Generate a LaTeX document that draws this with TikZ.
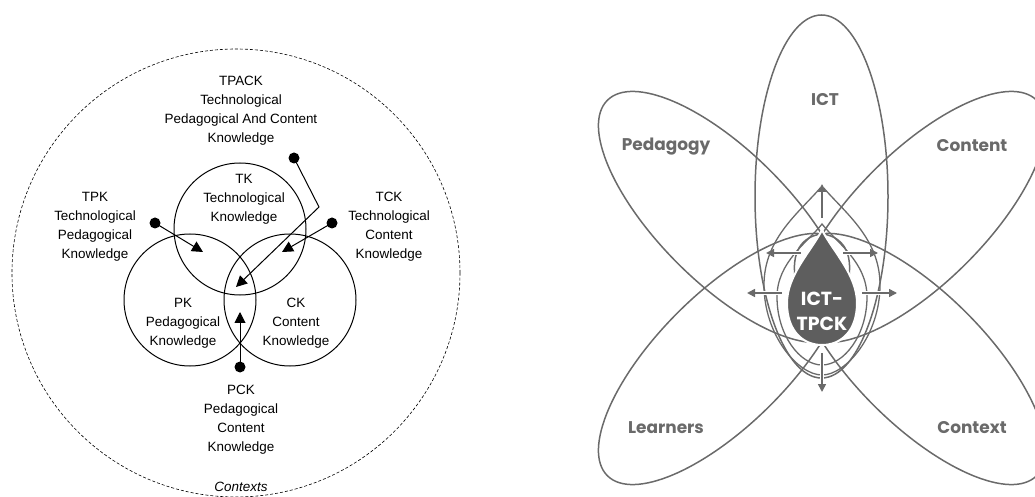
\documentclass[tikz,border=0pt]{standalone}
\usepackage{fontspec}
\setmainfont{Liberation Sans}
\newfontfamily\petalfont{Poppins}
\usetikzlibrary{arrows.meta}

\definecolor{petalgray}{HTML}{6A6A6A}
\definecolor{dropgray}{HTML}{5E5E5E}

\tikzset{
  venn/.style={circle, draw, line width=1bp, minimum size=132bp, inner sep=0pt},
  kname/.style={align=center, font=\fontsize{13.5}{19}\selectfont},
  pin/.style={circle, fill, minimum size=11bp, inner sep=0pt},
  pointer/.style={line width=1bp, -{Triangle[length=11bp,width=11bp]}},
  petal/.style={draw=petalgray, line width=1.5bp},
  ring/.style={draw=petalgray, line width=1.3bp},
  petalname/.style={text=petalgray, font=\petalfont\bfseries\fontsize{17}{20}\selectfont},
  flow/.style={draw=petalgray, line width=1.6bp, -{Triangle[length=8bp,width=8bp]},
    preaction={draw=white, line width=4.5bp, -}}
}

\begin{document}
\begin{tikzpicture}[x=1bp, y=-1bp]
\useasboundingbox (0,0) rectangle (1035,497);

% TPACK
\node[venn, dashed, minimum size=448bp, line width=0.6bp, dash pattern=on 3bp off 2bp] (context) at (236,273) {};
\node[venn] (tk) at (240,229) {};
\node[venn] (pk) at (190,300) {};
\node[venn] (ck) at (290,300) {};

\node[kname] (tpack) at (241,111) {TPACK\\Technological\\Pedagogical And Content\\Knowledge};
\node[kname] (tktext) at (244,199) {TK\\Technological\\Knowledge};
\node[kname] (tpk) at (95,227) {TPK\\Technological\\Pedagogical\\Knowledge};
\node[kname] (tck) at (389,227) {TCK\\Technological\\Content\\Knowledge};
\node[kname] (pktext) at (183,323) {PK\\Pedagogical\\Knowledge};
\node[kname] (cktext) at (296,323) {CK\\Content\\Knowledge};
\node[kname] (pck) at (241,420) {PCK\\Pedagogical\\Content\\Knowledge};
\node[kname, font=\fontsize{13.5}{19}\selectfont\itshape] (contexts) at (241,487) {Contexts};

\node[pin] (tpackpin) at (294,158) {};
\node[pin] (tpkpin) at (155,223) {};
\node[pin] (tckpin) at (332,223) {};
\node[pin] (pckpin) at (240,367) {};
\coordinate (tpackbend) at (319,207);
\coordinate (tpackhead) at (236,287);
\coordinate (tpkhead) at (203,252);
\coordinate (tckhead) at (282,252);
\coordinate (pckhead) at (240,312);

\draw[pointer] (tpackpin.center) -- (tpackbend) -- (tpackhead);
\draw[pointer] (tpkpin.center) -- (tpkhead);
\draw[pointer] (tckpin.center) -- (tckhead);
\draw[pointer] (pckpin.center) -- (pckhead);

% ICT-TPCK
\draw[petal] (821.5,196.5) ellipse [x radius=66.5, y radius=181.5];
\draw[petal, rotate around={-45:(724,217)}] (724,217) ellipse [x radius=165, y radius=65.5];
\draw[petal, rotate around={45:(920,217)}] (920,217) ellipse [x radius=165, y radius=65.5];
\draw[petal, rotate around={45:(724,359)}] (724,359) ellipse [x radius=165, y radius=65.5];
\draw[petal, rotate around={-45:(920,359)}] (920,359) ellipse [x radius=165, y radius=65.5];

% growing outlines round the drop
\draw[ring] (822,186) .. controls (800,212) and (764,238) .. (764,285)
  .. controls (764,335) and (798,375) .. (822,375)
  .. controls (846,375) and (880,335) .. (880,285)
  .. controls (880,238) and (844,212) .. (822,186) -- cycle;
\draw[ring] (822,224) .. controls (808,242) and (777,262) .. (777,297)
  .. controls (777,335) and (800,365) .. (822,365)
  .. controls (844,365) and (867,335) .. (867,297)
  .. controls (867,262) and (836,242) .. (822,224) -- cycle;

\fill[dropgray, draw=white, line width=2bp] (822,230)
  .. controls (812,250) and (787,275) .. (787,303)
  .. controls (787,331) and (803,345) .. (822,345)
  .. controls (841,345) and (857,331) .. (857,303)
  .. controls (857,275) and (832,250) .. (822,230) -- cycle;

\coordinate (upfrom) at (822,218);
\coordinate (upto) at (822,184);
\coordinate (downfrom) at (822,353);
\coordinate (downto) at (822,392);
\coordinate (lefthifrom) at (801,253);
\coordinate (lefthito) at (766,253);
\coordinate (leftlofrom) at (782,293);
\coordinate (leftloto) at (747,293);
\coordinate (righthifrom) at (843,253);
\coordinate (righthito) at (878,253);
\coordinate (rightlofrom) at (862,293);
\coordinate (rightloto) at (897,293);

\draw[flow] (upfrom) -- (upto);
\draw[flow] (downfrom) -- (downto);
\draw[flow] (lefthifrom) -- (lefthito);
\draw[flow] (leftlofrom) -- (leftloto);
\draw[flow] (righthifrom) -- (righthito);
\draw[flow] (rightlofrom) -- (rightloto);

\node[petalname] (ict) at (825,100) {ICT};
\node[petalname] (pedagogy) at (666,147) {Pedagogy};
\node[petalname] (content) at (972,146) {Content};
\node[petalname] (learners) at (666,428) {Learners};
\node[petalname] (contextname) at (972,428) {Context};
\node[petalname, text=white, align=center, font=\petalfont\bfseries\fontsize{19}{25}\selectfont] (ictpck) at (822,311) {ICT-\\TPCK};
\end{tikzpicture}
\end{document}
